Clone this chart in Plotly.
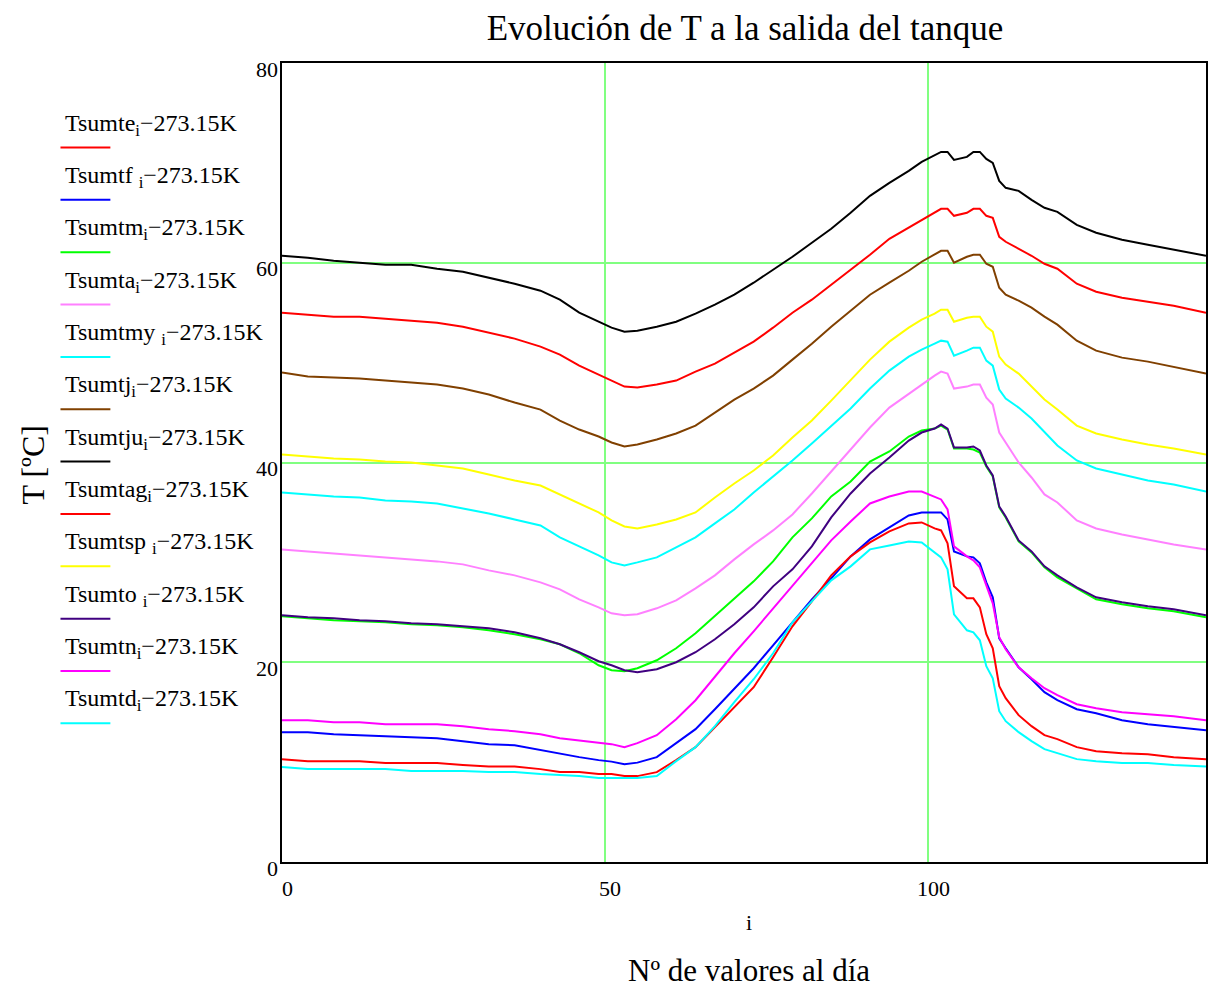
import plotly.graph_objects as go

# sample index (i = 0..143, 144 values per day)
idx = [0, 4, 8, 12, 16, 20, 24, 28, 32, 36, 40, 43, 46, 49, 51, 53, 55, 58, 61, 64, 67, 70, 73, 76, 79,
       82, 85, 88, 91, 94, 97, 99, 101, 102, 103, 104, 106, 107, 108, 109, 110, 111, 112, 114, 116, 118,
       120, 123, 126, 130, 134, 138, 143]

Tsumte = [55.0, 54.8, 54.6, 54.6, 54.4, 54.2, 54.0, 53.6, 53.0, 52.4, 51.6, 50.8, 49.7, 48.8, 48.2, 47.6,
          47.5, 47.8, 48.2, 49.1, 49.9, 51.0, 52.1, 53.5, 55.0, 56.3, 57.8, 59.3, 60.8, 62.4, 63.5, 64.3,
          65.0, 65.4, 65.4, 64.7, 65.0, 65.4, 65.4, 64.7, 64.5, 62.6, 62.1, 61.4, 60.7, 59.9, 59.4, 57.9,
          57.1, 56.5, 56.1, 55.7, 55.0]
Tsumtf = [13.0, 13.0, 12.8, 12.7, 12.6, 12.5, 12.4, 12.1, 11.8, 11.7, 11.2, 10.9, 10.5, 10.2, 10.05, 9.8,
          9.95, 10.5, 11.9, 13.3, 15.3, 17.3, 19.4, 21.7, 24.0, 26.3, 28.4, 30.6, 32.3, 33.5, 34.7, 35.0,
          35.0, 35.0, 34.3, 31.1, 30.6, 30.5, 29.9, 28.0, 26.5, 22.4, 21.4, 19.5, 18.3, 17.0, 16.2, 15.3,
          14.9, 14.2, 13.8, 13.5, 13.2]
Tsumtm = [24.6, 24.4, 24.2, 24.1, 24.0, 23.8, 23.7, 23.5, 23.2, 22.8, 22.3, 21.8, 20.9, 19.7, 19.2, 19.1,
          19.4, 20.2, 21.4, 22.9, 24.6, 26.4, 28.1, 30.1, 32.5, 34.4, 36.6, 38.1, 40.1, 41.1, 42.6, 43.2,
          43.4, 43.7, 43.3, 41.4, 41.4, 41.3, 41.0, 39.6, 38.6, 35.5, 34.5, 32.1, 31.0, 29.5, 28.5, 27.4,
          26.3, 25.8, 25.4, 25.1, 24.5]
Tsumta = [31.3, 31.1, 30.9, 30.7, 30.5, 30.3, 30.1, 29.8, 29.2, 28.7, 28.0, 27.3, 26.3, 25.5, 24.9, 24.7,
          24.8, 25.4, 26.2, 27.4, 28.7, 30.3, 31.8, 33.2, 34.8, 36.9, 39.1, 41.3, 43.5, 45.5, 46.9, 47.8,
          48.7, 49.1, 48.9, 47.4, 47.6, 47.8, 47.8, 46.5, 45.8, 43.0, 42.0, 40.0, 38.5, 36.8, 36.0, 34.2,
          33.4, 32.8, 32.3, 31.8, 31.3]
Tsumtmy = [37.0, 36.8, 36.6, 36.5, 36.2, 36.1, 35.9, 35.4, 34.9, 34.3, 33.7, 32.5, 31.6, 30.7, 30.0, 29.7,
           30.0, 30.5, 31.5, 32.5, 33.9, 35.3, 37.0, 38.6, 40.2, 41.9, 43.7, 45.4, 47.4, 49.2, 50.6, 51.3,
           51.9, 52.2, 52.1, 50.7, 51.2, 51.5, 51.5, 50.2, 49.7, 47.3, 46.4, 45.5, 44.4, 43.1, 41.7, 40.2,
           39.4, 38.8, 38.2, 37.8, 37.1]
Tsumtj = [49.0, 48.6, 48.5, 48.4, 48.2, 48.0, 47.8, 47.4, 46.8, 46.0, 45.3, 44.2, 43.3, 42.6, 42.0, 41.6,
          41.8, 42.3, 42.9, 43.7, 45.0, 46.3, 47.4, 48.7, 50.3, 51.9, 53.6, 55.2, 56.8, 58.0, 59.2, 60.1,
          60.8, 61.2, 61.2, 60.0, 60.6, 60.8, 60.8, 59.9, 59.6, 57.5, 56.8, 56.2, 55.5, 54.6, 53.8, 52.2,
          51.2, 50.5, 50.1, 49.6, 48.9]
Tsumtju = [60.7, 60.5, 60.2, 60.0, 59.8, 59.8, 59.4, 59.1, 58.5, 57.9, 57.2, 56.3, 55.0, 54.1, 53.5, 53.1,
           53.2, 53.6, 54.1, 54.9, 55.8, 56.8, 58.0, 59.3, 60.6, 62.0, 63.4, 65.0, 66.7, 68.0, 69.2, 70.1,
           70.8, 71.1, 71.1, 70.3, 70.6, 71.1, 71.1, 70.4, 70.0, 68.2, 67.5, 67.2, 66.3, 65.5, 65.1, 63.8,
           63.0, 62.3, 61.8, 61.3, 60.7]
Tsumtag = [10.3, 10.1, 10.1, 10.1, 9.9, 9.9, 9.9, 9.7, 9.55, 9.55, 9.3, 9.0, 9.0, 8.8, 8.8, 8.6,
           8.6, 9.0, 10.2, 11.5, 13.5, 15.6, 17.5, 20.5, 23.6, 26.1, 28.7, 30.6, 32.0, 33.1, 33.9, 34.0,
           33.4, 33.2, 31.9, 27.6, 26.4, 26.4, 25.5, 22.8, 21.4, 17.6, 16.4, 14.7, 13.6, 12.7, 12.3, 11.5,
           11.1, 10.9, 10.8, 10.5, 10.3]
Tsumtsp = [40.8, 40.6, 40.4, 40.3, 40.1, 40.0, 39.7, 39.4, 38.8, 38.2, 37.7, 36.8, 35.9, 35.0, 34.2, 33.6,
           33.4, 33.8, 34.3, 35.0, 36.5, 37.9, 39.2, 40.7, 42.5, 44.2, 46.2, 48.3, 50.3, 52.1, 53.5, 54.3,
           54.9, 55.3, 55.3, 54.1, 54.5, 54.6, 54.6, 53.6, 53.1, 50.6, 49.8, 48.9, 47.6, 46.3, 45.3, 43.7,
           42.9, 42.3, 41.8, 41.4, 40.8]
Tsumto = [24.7, 24.5, 24.4, 24.2, 24.1, 23.9, 23.8, 23.6, 23.4, 23.0, 22.4, 21.8, 21.0, 20.1, 19.7, 19.2,
          19.0, 19.3, 20.0, 21.0, 22.3, 23.8, 25.5, 27.6, 29.3, 31.6, 34.5, 36.9, 38.9, 40.5, 42.2, 43.0,
          43.4, 43.8, 43.4, 41.5, 41.5, 41.6, 41.2, 39.7, 38.7, 35.6, 34.6, 32.2, 31.1, 29.6, 28.7, 27.5,
          26.5, 26.0, 25.6, 25.3, 24.7]
Tsumtn = [14.2, 14.2, 14.0, 14.0, 13.8, 13.8, 13.8, 13.6, 13.3, 13.1, 12.8, 12.4, 12.2, 12.0, 11.8, 11.5,
          11.9, 12.7, 14.3, 16.2, 18.6, 20.9, 23.1, 25.4, 27.6, 30.0, 32.2, 34.1, 35.9, 36.6, 37.1, 37.1,
          36.6, 36.3, 35.3, 31.6, 30.6, 30.2, 29.5, 27.6, 25.9, 22.5, 21.3, 19.5, 18.4, 17.4, 16.7, 15.8,
          15.4, 15.0, 14.8, 14.6, 14.2]
Tsumtd = [9.5, 9.3, 9.3, 9.3, 9.3, 9.1, 9.1, 9.1, 9.0, 9.0, 8.8, 8.7, 8.6, 8.4, 8.4, 8.4,
          8.4, 8.6, 10.1, 11.5, 13.6, 16.0, 18.3, 20.9, 24.0, 26.1, 28.2, 29.6, 31.3, 31.7, 32.1, 32.0,
          31.0, 30.5, 29.3, 24.8, 23.2, 23.0, 22.2, 19.6, 18.4, 15.1, 14.1, 13.0, 12.1, 11.3, 10.9, 10.3,
          10.1, 9.9, 9.9, 9.7, 9.55]

names = ["Tsumte<sub>i</sub>", "Tsumtf <sub>i</sub>", "Tsumtm<sub>i</sub>", "Tsumta<sub>i</sub>",
         "Tsumtmy <sub>i</sub>", "Tsumtj<sub>i</sub>", "Tsumtju<sub>i</sub>", "Tsumtag<sub>i</sub>",
         "Tsumtsp <sub>i</sub>", "Tsumto <sub>i</sub>", "Tsumtn<sub>i</sub>", "Tsumtd<sub>i</sub>"]
series = [Tsumte, Tsumtf, Tsumtm, Tsumta, Tsumtmy, Tsumtj, Tsumtju, Tsumtag, Tsumtsp, Tsumto, Tsumtn, Tsumtd]
colors = ["#ff0000", "#0000ff", "#00ff00", "#ff80ff", "#00ffff", "#804000", "#000000", "#ff0000",
          "#ffff00", "#400080", "#ff00ff", "#00ffff"]

x_ticks = [0, 50, 100]
y_ticks = [0, 20, 40, 60, 80]

FONT = "Liberation Serif, Times New Roman, serif"
W, H = 1211, 988
L, R, T, B = 282, 3, 63, 126
PW, PH = W - L - R, H - T - B

fig = go.Figure()
for nm, ys, c in zip(names, series, colors):
    fig.add_trace(go.Scatter(x=idx, y=ys, mode="lines", name=nm,
                             line=dict(color=c, width=2), showlegend=False))


def px2paper_x(px):
    return (px - L) / PW


def px2paper_y(py):
    return (H - B - py) / PH


annotations = []
shapes = []
for k, (nm, c) in enumerate(zip(names, colors)):
    ly = 147.5 + 52.35 * k
    shapes.append(dict(type="line", xref="paper", yref="paper",
                       x0=px2paper_x(60), x1=px2paper_x(110),
                       y0=px2paper_y(ly), y1=px2paper_y(ly),
                       line=dict(color=c, width=2)))
    annotations.append(dict(text=nm + "\u2212273.15K", xref="paper", yref="paper",
                            x=px2paper_x(63), y=px2paper_y(ly - 23),
                            xanchor="left", yanchor="middle", showarrow=False,
                            font=dict(family=FONT, size=24, color="black")))

# tick labels (Mathcad places them slightly offset from the grid lines)
for v in y_ticks:
    annotations.append(dict(text=str(v), xref="paper", yref="y", x=0, y=v, xanchor="right",
                            yanchor="middle", xshift=-2, yshift=-6, showarrow=False,
                            font=dict(family=FONT, size=22, color="black")))
for v in x_ticks:
    annotations.append(dict(text=str(v), xref="x", yref="paper", x=v, y=0, xanchor="center",
                            yanchor="top", xshift=5, yshift=-12, showarrow=False,
                            font=dict(family=FONT, size=22, color="black")))

annotations.append(dict(text="i", xref="paper", yref="paper", x=px2paper_x(750), y=px2paper_y(922),
                        xanchor="center", yanchor="middle", showarrow=False,
                        font=dict(family=FONT, size=22, color="black")))
annotations.append(dict(text="N\u00ba de valores al d\u00eda", xref="paper", yref="paper",
                        x=px2paper_x(750), y=px2paper_y(970), xanchor="center", yanchor="middle",
                        showarrow=False, font=dict(family=FONT, size=31, color="black")))
annotations.append(dict(text="T [\u00baC]", xref="paper", yref="paper", x=px2paper_x(32),
                        y=px2paper_y(465), xanchor="center", yanchor="middle", textangle=-90,
                        showarrow=False, font=dict(family=FONT, size=32, color="black")))

fig.update_layout(
    width=W, height=H,
    margin=dict(l=L, r=R, t=T, b=B),
    paper_bgcolor="white", plot_bgcolor="white",
    title=dict(text="Evoluci\u00f3n de T a la salida del tanque", x=745 / W,
               xanchor="center", y=1 - 28 / H, yanchor="middle",
               font=dict(family=FONT, size=35, color="black")),
    annotations=annotations, shapes=shapes,
    font=dict(family=FONT, color="black"),
)
fig.update_xaxes(range=[0, 143], tickvals=x_ticks, showticklabels=False, showgrid=True,
                 gridcolor="#80ff80", gridwidth=1.5,
                 showline=True, linecolor="black", linewidth=2, mirror=True, zeroline=False, ticks="")
fig.update_yaxes(range=[0, 80], tickvals=y_ticks, showticklabels=False, showgrid=True,
                 gridcolor="#80ff80", gridwidth=1.5,
                 showline=True, linecolor="black", linewidth=2, mirror=True, zeroline=False, ticks="")

fig.write_html("out.html", config={"displayModeBar": False},
               post_script="document.body.style.margin='0px';document.body.style.overflow='hidden';")
